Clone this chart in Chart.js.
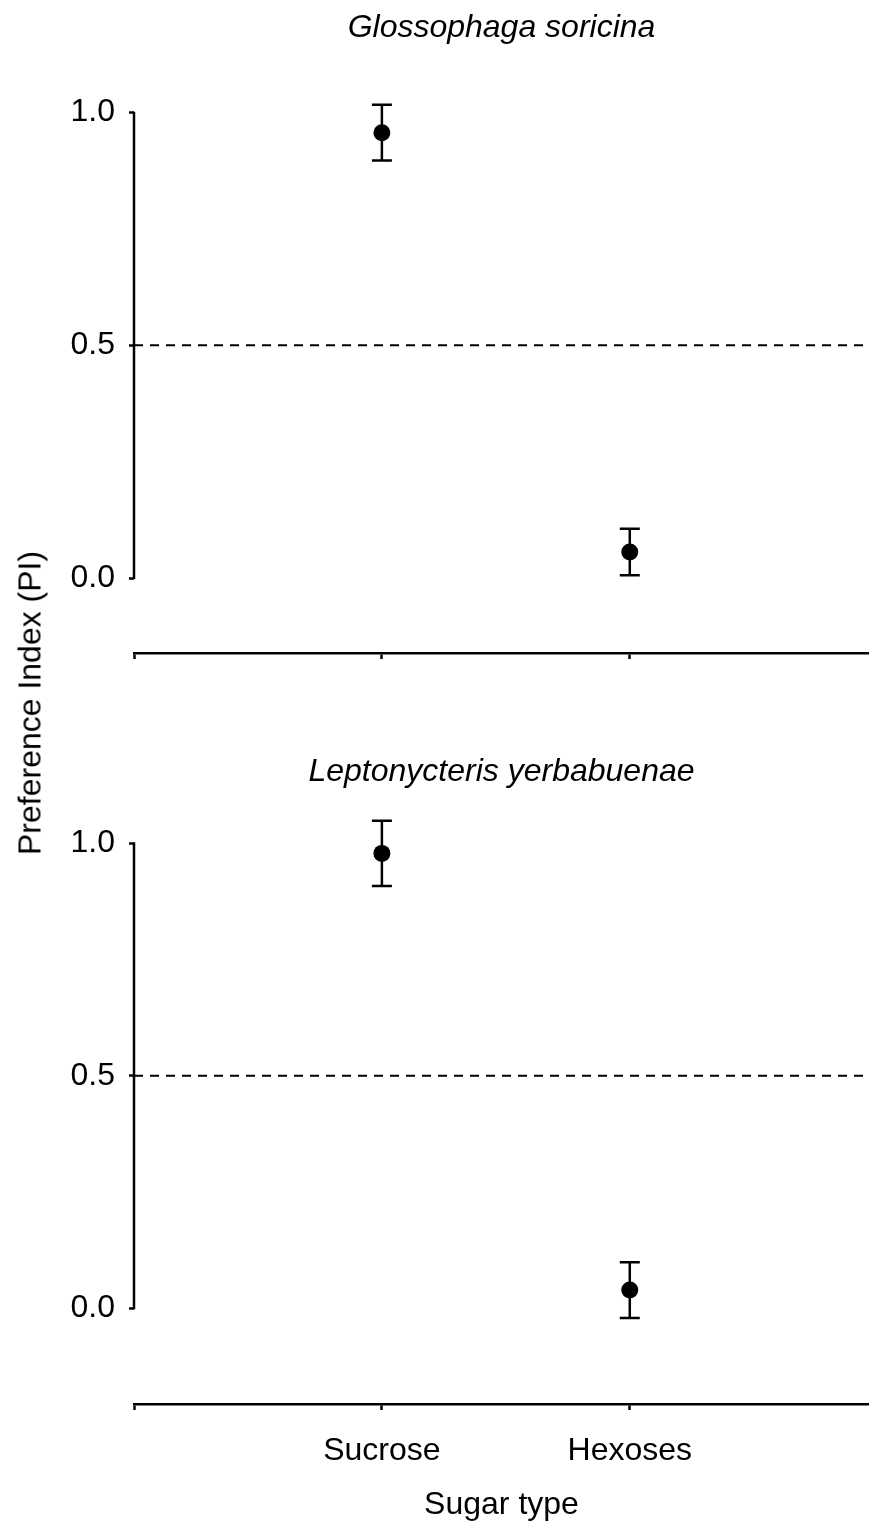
<!DOCTYPE html>
<html>
<head>
<meta charset="utf-8">
<script src="https://cdn.jsdelivr.net/npm/chart.js@4/dist/chart.umd.min.js"></script>
<style>
    body { margin: 0; background: #fff; }
    .page { position: relative; width: 869px; height: 1531px; overflow: hidden; background: #fff; }
    #topChart { position: absolute; left: 0; top: 0; }
    #bottomChart { position: absolute; left: 0; top: 663px; }
    .y-title {
        position: absolute;
        left: 30px;
        top: 703px;
        transform: translate(-50%, -50%) rotate(-90deg);
        white-space: nowrap;
        font-family: "Liberation Sans", Arial, sans-serif;
        font-size: 32px;
        color: #000;
    }
</style>
</head>
<body>
<div class="page">
    <canvas id="topChart" width="869" height="663"></canvas>
    <canvas id="bottomChart" width="869" height="868"></canvas>
    <div class="y-title">Preference Index (PI)</div>
</div>
<script>
// Data
const categories = ['Sucrose', 'Hexoses'];
const panelTitles = ['Glossophaga soricina', 'Leptonycteris yerbabuenae'];
const soricinaMean = [0.957, 0.056];
const soricinaErr = [0.060, 0.050];
const yerbabuenaeMean = [0.978, 0.039];
const yerbabuenaeErr = [0.070, 0.060];
const yTicks = [0, 0.5, 1.0];
const xTicks = [0, 1, 2];
const indifference = 0.5;
const axisLabel = 'Sugar type';

const FONT = '"Liberation Sans", Arial, sans-serif';
const INK = '#000';

// Error bars drawn under the points
const errorBarPlugin = {
    id: 'errorBars',
    beforeDatasetsDraw(chart) {
        const ctx = chart.ctx;
        const xs = chart.scales.x;
        const ys = chart.scales.y;
        ctx.save();
        ctx.strokeStyle = INK;
        ctx.lineWidth = 2.5;
        chart.data.datasets.forEach(ds => {
            ds.data.forEach(p => {
                const px = xs.getPixelForValue(p.x);
                const yTop = ys.getPixelForValue(p.y + p.err);
                const yBot = ys.getPixelForValue(p.y - p.err);
                ctx.beginPath();
                ctx.moveTo(px, yTop);
                ctx.lineTo(px, yBot);
                ctx.moveTo(px - 10, yTop);
                ctx.lineTo(px + 10, yTop);
                ctx.moveTo(px - 10, yBot);
                ctx.lineTo(px + 10, yBot);
                ctx.stroke();
            });
        });
        ctx.restore();
    }
};

// Range-frame y axis (0 to 1) and dashed reference line
const framePlugin = {
    id: 'frame',
    beforeDatasetsDraw(chart) {
        const ctx = chart.ctx;
        const area = chart.chartArea;
        const ys = chart.scales.y;
        ctx.save();
        ctx.strokeStyle = INK;
        ctx.lineWidth = 2.5;
        ctx.beginPath();
        ctx.moveTo(area.left, ys.getPixelForValue(yTicks[yTicks.length - 1]) - 1);
        ctx.lineTo(area.left, ys.getPixelForValue(yTicks[0]) + 1);
        ctx.stroke();

        const yRef = ys.getPixelForValue(indifference);
        ctx.lineWidth = 2;
        ctx.setLineDash([9, 7]);
        ctx.beginPath();
        ctx.moveTo(area.left, yRef);
        ctx.lineTo(area.right, yRef);
        ctx.stroke();
        ctx.restore();
    }
};

// keep the chart area where the reference has it
function noOverhang(scale) {
    scale.paddingTop = 0;
    scale.paddingBottom = 0;
    scale.paddingLeft = 0;
    scale.paddingRight = 0;
}

function makePanel(canvasId, title, means, errs, cfg) {
    const points = categories.map((c, i) => ({ x: i + 1, y: means[i], err: errs[i] }));

    return new Chart(document.getElementById(canvasId), {
        type: 'scatter',
        data: {
            datasets: [{
                data: points,
                pointRadius: 8.5,
                pointBackgroundColor: INK,
                pointBorderColor: INK,
                pointBorderWidth: 0,
                showLine: false
            }]
        },
        options: {
            responsive: false,
            animation: false,
            events: [],
            layout: { padding: 0, autoPadding: false },
            plugins: {
                legend: { display: false },
                tooltip: { enabled: false },
                title: {
                    display: true,
                    text: title,
                    fullSize: false,
                    color: INK,
                    font: { family: FONT, size: 32, style: 'italic', weight: 'normal', lineHeight: 1.2 },
                    padding: cfg.titlePadding
                }
            },
            scales: {
                x: {
                    type: 'linear',
                    min: 0,
                    max: 2.965,
                    afterBuildTicks: scale => {
                        scale.ticks = xTicks.map(v => ({ value: v }));
                    },
                    afterFit: scale => {
                        scale.height = cfg.xHeight;
                        noOverhang(scale);
                    },
                    border: { display: true, color: INK, width: 2.5 },
                    grid: {
                        drawOnChartArea: false,
                        drawTicks: true,
                        tickLength: 6,
                        tickWidth: 2.5,
                        tickColor: INK
                    },
                    ticks: {
                        display: cfg.showXLabels,
                        padding: 22,
                        maxRotation: 0,
                        autoSkip: false,
                        color: INK,
                        font: { family: FONT, size: 32, lineHeight: 1.2 },
                        callback: v => categories[v - 1] || ''
                    },
                    title: {
                        display: cfg.showXLabels,
                        text: axisLabel,
                        color: INK,
                        font: { family: FONT, size: 32, lineHeight: 1.2 },
                        padding: { top: 0, bottom: 7 }
                    }
                },
                y: {
                    type: 'linear',
                    min: cfg.yMin,
                    max: 1.05,
                    afterBuildTicks: scale => {
                        scale.ticks = yTicks.map(v => ({ value: v }));
                    },
                    afterFit: scale => {
                        scale.width = 134;
                        noOverhang(scale);
                    },
                    border: { display: false },
                    grid: {
                        drawOnChartArea: false,
                        drawTicks: true,
                        tickLength: 5,
                        tickWidth: 2.5,
                        tickColor: INK
                    },
                    ticks: {
                        padding: 14,
                        color: INK,
                        font: { family: FONT, size: 32, lineHeight: 1.2 },
                        callback: v => Number(v).toFixed(1)
                    }
                }
            }
        },
        plugins: [framePlugin, errorBarPlugin]
    });
}

makePanel('topChart', panelTitles[0], soricinaMean, soricinaErr, {
    yMin: -0.161,
    xHeight: 10,
    showXLabels: false,
    titlePadding: { top: 9, bottom: 42 }
});

makePanel('bottomChart', panelTitles[1], yerbabuenaeMean, yerbabuenaeErr, {
    yMin: -0.206,
    xHeight: 127,
    showXLabels: true,
    titlePadding: { top: 90, bottom: 28.5 }
});
</script>
</body>
</html>
